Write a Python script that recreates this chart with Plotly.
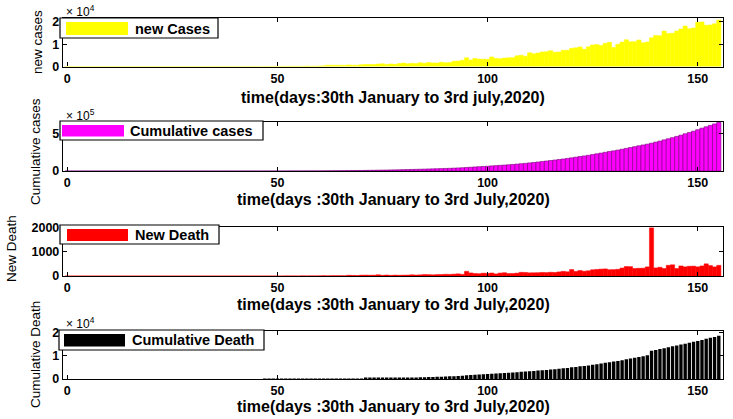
import numpy as np
import plotly.graph_objects as go

# ---------------- data (day 0 = 30 Jan 2020 ... day 155 = 3 Jul 2020) ----------------
new_cases = (
    # 30 Jan - 1 Mar
    [1, 0, 0, 1, 1, 0, 0, 0, 0, 0, 0, 0, 0, 0, 0, 0, 0, 0, 0, 0, 0, 0, 0, 0, 0, 0, 0, 0, 0, 0, 0, 0]
    # 2 Mar - 31 Mar
    + [2, 1, 22, 2, 1, 3, 5, 9, 15, 8, 10, 10, 12, 11, 16, 15, 23, 22, 49, 80,
       75, 104, 78, 86, 88, 184, 149, 139, 227, 303]
    # April
    + [602, 519, 547, 578, 523, 710, 560, 597, 820, 894, 876, 918, 1103, 1204, 885,
       1140, 955, 1306, 1537, 1286, 1425, 1331, 1694, 1462, 1815, 1607, 1568, 1901, 1703, 1804]
    # May
    + [2392, 2442, 2806, 3923, 2958, 3595, 3339, 3288, 3233, 4305, 3646, 3524, 3763, 3941,
       3983, 4794, 5049, 4628, 6154, 5720, 6023, 6536, 6667, 7111, 6414, 6535, 7246, 7254,
       8138, 8364, 8789]
    # June
    + [7723, 8812, 9689, 9849, 9472, 10408, 10882, 8536, 9981, 10956, 12023, 11157, 11135,
       11929, 10667, 10994, 12868, 13948, 13829, 15915, 14821, 14933, 15968, 16868, 18205,
       16922, 17296, 19906, 20015, 18522]
    # 1 - 3 July
    + [18653, 19148, 20903]
)

new_deaths = (
    # 30 Jan - 11 Mar
    [0, 0, 0, 0, 0, 0, 0, 0, 0, 0, 0, 0, 0, 0, 0, 0, 0, 0, 0, 0, 0,
     0, 0, 0, 0, 0, 0, 0, 0, 0, 0, 0, 0, 0, 0, 0, 0, 0, 0, 0, 0, 0]
    # 12 Mar - 31 Mar
    + [1, 1, 0, 0, 0, 1, 0, 1, 0, 0, 3, 2, 2, 1, 6, 2, 5, 3, 6, 12]
    # April
    + [6, 12, 12, 11, 11, 30, 25, 20, 35, 37, 33, 34, 51, 29, 41, 27, 37, 31, 36, 38,
       50, 41, 48, 61, 57, 49, 58, 61, 71, 67]
    # May
    + [77, 89, 69, 195, 128, 103, 95, 117, 109, 125, 87, 122, 136, 103, 104, 119, 154, 148,
       132, 134, 137, 148, 142, 156, 147, 170, 193, 175, 269, 193, 230]
    # June
    + [200, 217, 259, 273, 286, 295, 261, 265, 279, 331, 395, 389, 312, 321, 326, 380, 2003,
       336, 364, 312, 445, 466, 312, 418, 381, 406, 410, 380, 418, 506]
    # 1 - 3 July
    + [434, 379, 444]
)

days = list(range(len(new_cases)))
cum_cases = np.cumsum(new_cases).tolist()
cum_deaths = np.cumsum(new_deaths).tolist()

x_tickvals = [0, 50, 100, 150]
x_ticktext = ["0", "50", "100", "150"]

series = [new_cases, cum_cases, new_deaths, cum_deaths]
legend_labels = ["new Cases", "Cumulative cases", "New Death", "Cumulative Death"]
y_labels = ["new cases", "Cumulative cases", "New Death", "Cumulative Death"]
x_titles = ["time(days:30th January to 3rd july,2020)",
            "time(days :30th January to 3rd July,2020)",
            "time(days :30th January to 3rd July,2020)",
            "time(days :30th January to 3rd July,2020)"]
y_tickvals = [[0, 10000, 20000], [0, 500000], [0, 1000, 2000], [0, 10000, 20000]]
y_ticktext = [["0", "1", "2"], ["0", "5"], ["0", "1000", "2000"], ["0", "1", "2"]]
exponents = ["4", "5", None, "4"]

# ---------------- styling / layout ----------------
W, H = 733, 419
def px(x):
    return x / W
def py(y):
    return 1 - y / H

colors = ["#ffff00", "#ff00ff", "#ff0000", "#000000"]
bar_widths = [1.0, 1.0, 1.0, 0.8]
line_cols = ["#ffff00", "#7a007a", "#ff0000", "#000000"]
line_ws = [0.5, 0.6, 0.5, 0]
y_max = [22000, 650000, 2040, 21000]
panels = [(17.5, 66.5), (122, 171), (227, 276), (330.5, 379)]
xl, xr = 63, 723
FONT = "Liberation Sans, Arial, Helvetica, sans-serif"

legend_boxes = [
    dict(box=(60, 218, 18, 38), patch=(66, 128, 22, 35), tx=133, ty=29),
    dict(box=(60, 263, 121, 140), patch=(62, 124, 125, 136.5), tx=128, ty=130.5),
    dict(box=(60, 219, 225, 244), patch=(67, 128, 229, 241), tx=133, ty=235),
    dict(box=(59, 264, 330, 350), patch=(64, 125, 334, 346.5), tx=130, ty=340),
]
exp_pos = [(64, 11), (64, 115), None, (64, 323)]
xtitle_y = [97, 199, 304, 406]
ylab_x = [38, 35, 11, 35]
ylab_y = [42, 152, 249, 355]

fig = go.Figure()
layout = dict(
    template="none",
    width=W, height=H,
    margin=dict(l=0, r=0, t=0, b=0, autoexpand=False),
    paper_bgcolor="white", plot_bgcolor="white",
    showlegend=False,
    font=dict(family=FONT, color="black"),
)
shapes = []
annotations = []

for i in range(4):
    k = "" if i == 0 else str(i + 1)
    top, bot = panels[i]
    fig.add_trace(go.Bar(
        x=days, y=series[i], xaxis="x" + k, yaxis="y" + k,
        width=bar_widths[i],
        marker=dict(color=colors[i], line=dict(color=line_cols[i], width=line_ws[i])),
        name=legend_labels[i],
    ))
    layout["xaxis" + k] = dict(
        domain=[px(xl), px(xr)], anchor="y" + k, range=[-1, 156], automargin=False,
        tickvals=x_tickvals, ticktext=x_ticktext,
        ticks="inside", ticklen=4, tickwidth=1.2, tickcolor="black",
        showline=True, linecolor="black", linewidth=1.4, mirror="ticks",
        showgrid=False, zeroline=False,
        tickfont=dict(size=12.5, family=FONT, weight="bold", color="black"),
    )
    layout["yaxis" + k] = dict(
        domain=[py(bot), py(top)], anchor="x" + k, range=[0, y_max[i]], automargin=False,
        tickvals=y_tickvals[i], ticktext=y_ticktext[i],
        ticks="inside", ticklen=4, tickwidth=1.2, tickcolor="black",
        showline=True, linecolor="black", linewidth=1.4, mirror="ticks",
        showgrid=False, zeroline=False,
        tickfont=dict(size=12.5, family=FONT, weight="bold", color="black"),
    )
    # legend box
    b = legend_boxes[i]
    bx0, bx1, by0, by1 = b["box"]
    shapes.append(dict(type="rect", xref="paper", yref="paper",
                       x0=px(bx0), x1=px(bx1), y0=py(by1), y1=py(by0),
                       fillcolor="white", line=dict(color="black", width=1.2), layer="above"))
    qx0, qx1, qy0, qy1 = b["patch"]
    shapes.append(dict(type="rect", xref="paper", yref="paper",
                       x0=px(qx0), x1=px(qx1), y0=py(qy1), y1=py(qy0),
                       fillcolor=colors[i], line=dict(width=0), layer="above"))
    annotations.append(dict(text=legend_labels[i], xref="paper", yref="paper",
                            x=px(b["tx"]), y=py(b["ty"]), xanchor="left", yanchor="middle",
                            showarrow=False,
                            font=dict(size=14.5, family=FONT, weight="bold", color="black")))
    # exponent label
    if exponents[i] is not None:
        ex, ey = exp_pos[i]
        annotations.append(dict(text="\u00d7 10<sup>" + exponents[i] + "</sup>",
                                xref="paper", yref="paper", x=px(ex), y=py(ey),
                                xanchor="left", yanchor="middle", showarrow=False,
                                font=dict(size=12, family=FONT, color="black")))
    # x title
    annotations.append(dict(text=x_titles[i], xref="paper", yref="paper",
                            x=px((xl + xr) / 2), y=py(xtitle_y[i]),
                            xanchor="center", yanchor="middle", showarrow=False,
                            font=dict(size=16, family=FONT, weight="bold", color="black")))
    # y title
    annotations.append(dict(text=y_labels[i], xref="paper", yref="paper",
                            x=px(ylab_x[i]), y=py(ylab_y[i]), textangle=-90,
                            xanchor="center", yanchor="middle", showarrow=False,
                            font=dict(size=13.5, family=FONT, color="black")))

layout["shapes"] = shapes
layout["annotations"] = annotations
fig.update_layout(**layout)
# remove the default 8px page margin so the figure fills the window exactly
fig.write_html("out.html", config={"displayModeBar": False},
               post_script="document.body.style.margin='0px';")
